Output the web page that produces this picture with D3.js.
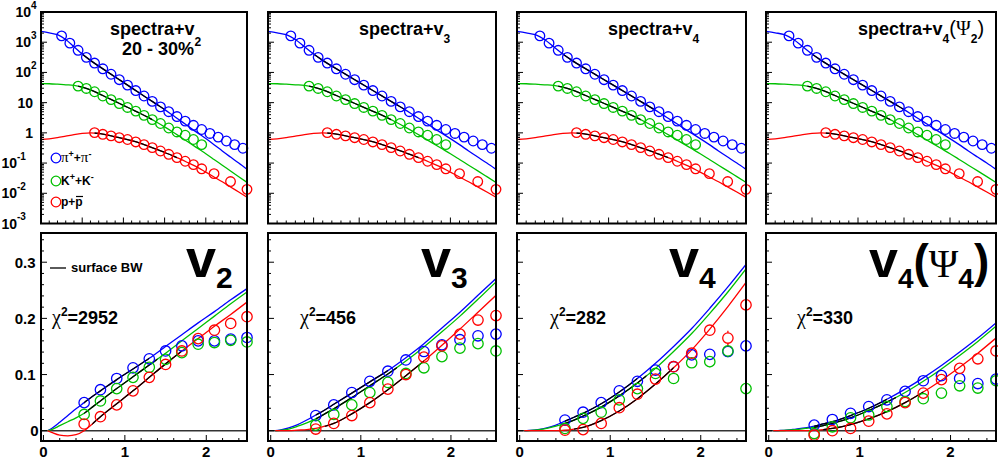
<!DOCTYPE html>
<html><head><meta charset="utf-8">
<script src="https://cdn.jsdelivr.net/npm/d3@7"></script>
<style>
html,body{margin:0;padding:0;background:#fff;}
svg{display:block;}
text{font-family:"Liberation Sans",Arial,Helvetica,sans-serif;font-weight:bold;fill:#000;}
</style></head><body>
<svg id="c" width="998" height="459"></svg>
<script>
// ---------------- DATA ----------------
// top row: identified hadron spectra (20-30%)
const specPionPt = [0.25,0.35,0.45,0.55,0.65,0.75,0.85,0.95,1.05,1.15,1.25,1.35,1.45,1.55,1.65,1.75,1.85,1.95,2.05,2.15,2.25,2.35,2.45];
const specPion   = [1620,930,540,316,204,132,87.1,57.5,38.0,25.1,16.6,11.0,7.24,5.01,3.47,2.45,1.78,1.29,0.955,0.724,0.537,0.407,0.309];
const specKaonPt = [0.45,0.55,0.65,0.75,0.85,0.95,1.05,1.15,1.25,1.35,1.45,1.55,1.65,1.75,1.85,1.95];
const specKaon   = [35.1,29.5,22.9,16.6,12.6,9.33,6.92,5.25,3.80,2.75,2.04,1.45,1.07,0.832,0.603,0.407];
const specProtonPt = [0.65,0.75,0.85,0.95,1.05,1.15,1.25,1.35,1.45,1.55,1.65,1.75,1.85,1.95,2.1,2.3,2.5];
const specProton   = [1.02,0.895,0.794,0.692,0.603,0.501,0.407,0.324,0.251,0.195,0.151,0.115,0.0891,0.0646,0.0447,0.0245,0.0135];
// surface blast-wave curves for spectra
const specFitPt = [0,0.1,0.2,0.3,0.4,0.5,0.6,0.7,0.8,0.9,1.0,1.1,1.2,1.3,1.4,1.5,1.6,1.7,1.8,1.9,2.0,2.1,2.2,2.3,2.4,2.5];
const specFitPion = [2291,2042,1778,1230,708,407,251,162,107,70.8,46.8,30.9,20.4,13.5,8.91,5.89,3.80,2.45,1.55,1.0,0.646,0.407,0.251,0.158,0.100,0.0617];
const specFitKaon = [42.7,42.2,40.7,38.9,37.2,32.4,26.3,20.0,14.8,11.0,8.13,6.03,4.47,3.24,2.29,1.58,1.07,0.708,0.468,0.309,0.204,0.132,0.0851,0.0550,0.0355,0.0229];
const specFitProton = [0.603,0.631,0.692,0.776,0.871,0.955,1.0,0.955,0.851,0.741,0.646,0.550,0.457,0.363,0.288,0.224,0.174,0.132,0.0977,0.0724,0.0501,0.0347,0.0240,0.0162,0.0110,0.00741];
const specFitRange = {pion:[0.5,1.5], kaon:[0.45,1.35], proton:[0.65,1.65]};
const specTicksLog = [1e4,1e3,1e2,10,1,0.1,0.01,0.001];
const specTickBase = ["10","10","10","10","1","10","10","10"];
const specTickExp  = ["4","3","2","","","-1","-2","-3"];

// bottom row: vn(pT)
const vnPt = [0.5,0.7,0.9,1.1,1.3,1.5,1.7,1.9,2.1,2.3,2.5];
const v2Pion   = [0.050,0.073,0.093,0.112,0.128,0.142,0.151,0.160,0.160,0.163,0.166];
const v2Kaon   = [0.029,0.053,0.075,0.095,0.113,0.127,0.139,0.154,0.157,0.161,0.158];
const v2Proton = [0.012,0.025,0.046,0.071,0.095,0.118,0.142,0.164,0.179,0.191,0.203];
const v3Pion   = [0.027,0.046,0.068,0.088,0.106,0.126,0.141,0.153,0.162,0.169,0.172];
const v3Kaon   = [0.010,0.029,0.046,0.068,0.086,0.102,0.112,0.132,0.147,0.155,0.142];
const v3Proton = [0.003,0.013,0.027,0.050,0.074,0.100,0.131,0.151,0.172,0.197,0.205];
const v4Pion   = [0.019,0.033,0.050,0.071,0.088,0.108,0.114,0.135,0.136,0.141,0.151];
const v4Kaon   = [0.004,0.022,0.033,0.055,0.075,0.102,0.093,0.121,0.123,0.142,0.075];
const v4Proton = [0.001,0.002,0.013,0.041,0.065,0.092,0.114,0.138,0.179,0.165,0.224];
const v4PionErr   = [0,0,0,0,0,0,0,0,0.006,0.009,0.014];
const v4KaonErr   = [0,0,0,0,0,0,0,0,0.010,0.011,0.021];
const v4ProtonErr = [0,0,0,0,0,0,0,0,0.008,0.013,0.017];
const v4Psi4Pion   = [0.010,0.020,0.031,0.043,0.055,0.070,0.089,0.098,0.093,0.084,0.092];
const v4Psi4Kaon   = [-0.005,0.007,0.023,0.028,0.043,0.052,0.057,0.067,0.080,0.076,0.089];
const v4Psi4Proton = [-0.008,0.000,0.004,0.017,0.030,0.050,0.067,0.091,0.111,0.128,0.142];
// surface blast-wave curves for vn
const vnFitPt = [0.05,0.1,0.2,0.3,0.4,0.5,0.6,0.7,0.9,1.1,1.3,1.5,1.7,1.9,2.1,2.3,2.5];
const v2FitPion   = [0,0.004,0.015,0.027,0.039,0.050,0.061,0.071,0.091,0.110,0.129,0.150,0.171,0.192,0.212,0.233,0.253];
const v2FitKaon   = [0,0.002,0.009,0.016,0.023,0.031,0.042,0.053,0.075,0.096,0.117,0.138,0.160,0.182,0.204,0.226,0.247];
const v2FitProton = [0,-0.003,-0.008,-0.009,-0.007,0.000,0.012,0.025,0.048,0.071,0.095,0.119,0.142,0.164,0.186,0.207,0.229];
const v3FitPion   = [0,0.001,0.005,0.011,0.019,0.028,0.037,0.047,0.067,0.087,0.107,0.130,0.155,0.183,0.211,0.241,0.271];
const v3FitKaon   = [0,0.0005,0.003,0.008,0.014,0.021,0.030,0.039,0.059,0.080,0.101,0.124,0.149,0.176,0.204,0.234,0.265];
const v3FitProton = [0,0,0,0.001,0.002,0.004,0.008,0.013,0.030,0.050,0.073,0.098,0.124,0.152,0.181,0.211,0.241];
const v4FitPion   = [0,0.0005,0.002,0.005,0.010,0.017,0.024,0.031,0.048,0.069,0.093,0.120,0.150,0.182,0.218,0.256,0.296];
const v4FitKaon   = [0,0.0003,0.0015,0.004,0.008,0.013,0.019,0.026,0.042,0.062,0.085,0.111,0.141,0.173,0.209,0.247,0.288];
const v4FitProton = [0,0,0,0,0,0.001,0.003,0.006,0.018,0.035,0.057,0.083,0.112,0.144,0.181,0.221,0.264];
const v4Psi4FitPion   = [0,0.0003,0.001,0.003,0.005,0.008,0.012,0.016,0.027,0.040,0.056,0.074,0.094,0.116,0.140,0.165,0.192];
const v4Psi4FitKaon   = [0,0.0002,0.0008,0.002,0.004,0.006,0.009,0.013,0.023,0.036,0.051,0.068,0.088,0.110,0.134,0.159,0.186];
const v4Psi4FitProton = [0,0,0,0,0,0.0005,0.002,0.004,0.011,0.021,0.034,0.050,0.069,0.090,0.113,0.138,0.165];
const vnFitRange = {pion:[0.5,1.3], kaon:[0.5,1.4], proton:[0.6,1.7]};
const chi2Values = ["2952","456","282","330"];
const vnTicks = [0,0.1,0.2,0.3];
const ptTicks = [0,1,2];

// ---------------- LAYOUT ----------------
const W = 998, H = 459;
const padL = [41, 268, 517, 766];
const padR = [247, 496, 746, 996];
const topY0 = 12, topY1 = 223.5;
const botY0 = 233, botY1 = 441;
const COL = {pion:"#0000ff", kaon:"#00c000", proton:"#ff0000"};
const SERIF = '"Liberation Serif","DejaVu Serif",serif';

const svg = d3.select("#c");
svg.append("rect").attr("width",W).attr("height",H).attr("fill","#fff");
const defs = svg.append("defs");

function rich(sel, x, y, parts, anchor){
  const t = sel.append("text").attr("x",x).attr("y",y).attr("text-anchor",anchor||"start");
  parts.forEach(p=>{
    const s = t.append("tspan").text(p.t).attr("font-size",p.s);
    if(p.dy) s.attr("dy",p.dy);
    if(p.g) s.attr("font-family",SERIF).attr("font-weight","normal");
    if(p.n) s.attr("font-weight","normal");
  });
  return t;
}
function zip(xs, ys){ return xs.map((x,i)=>[x,ys[i]]); }

const yTop = d3.scaleLog().domain([1e-3,1e4]).range([topY1, topY0]);
const yBot = d3.scaleLinear().domain([-0.0183,0.352]).range([botY1, botY0]);

const vnSets = [
  {pts:[v2Pion,v2Kaon,v2Proton], fit:[v2FitPion,v2FitKaon,v2FitProton]},
  {pts:[v3Pion,v3Kaon,v3Proton], fit:[v3FitPion,v3FitKaon,v3FitProton]},
  {pts:[v4Pion,v4Kaon,v4Proton], fit:[v4FitPion,v4FitKaon,v4FitProton], err:[v4PionErr,v4KaonErr,v4ProtonErr]},
  {pts:[v4Psi4Pion,v4Psi4Kaon,v4Psi4Proton], fit:[v4Psi4FitPion,v4Psi4FitKaon,v4Psi4FitProton]}
];
const species = ["pion","kaon","proton"];
const specPts = [[specPionPt,specPion],[specKaonPt,specKaon],[specProtonPt,specProton]];
const specFits = [specFitPion,specFitKaon,specFitProton];

for(let i=0;i<4;i++){
  // ---------- top panel ----------
  const xT = d3.scaleLinear().domain([0,2.5]).range([padL[i],padR[i]]);
  const gT = svg.append("g");
  const cidT = "clipT"+i;
  defs.append("clipPath").attr("id",cidT).append("rect")
    .attr("x",padL[i]).attr("y",topY0).attr("width",padR[i]-padL[i]).attr("height",topY1-topY0);
  const lineT = d3.line().x(d=>xT(d[0])).y(d=>yTop(d[1])).curve(d3.curveMonotoneX);
  species.forEach((sp,k)=>{
    gT.append("path").attr("d",lineT(zip(specFitPt,specFits[k])))
      .attr("fill","none").attr("stroke",COL[sp]).attr("stroke-width",1.3).attr("clip-path",`url(#${cidT})`);
  });
  species.forEach((sp,k)=>{
    const r = specFitRange[sp];
    const cid = `clipT${i}_${k}`;
    defs.append("clipPath").attr("id",cid).append("rect")
      .attr("x",xT(r[0])).attr("y",topY0).attr("width",xT(r[1])-xT(r[0])).attr("height",topY1-topY0);
    gT.append("path").attr("d",lineT(zip(specFitPt,specFits[k])))
      .attr("fill","none").attr("stroke","#000").attr("stroke-width",1.3).attr("clip-path",`url(#${cid})`);
  });
  species.forEach((sp,k)=>{
    gT.selectAll(null).data(zip(specPts[k][0],specPts[k][1])).enter().append("circle")
      .attr("cx",d=>xT(d[0])).attr("cy",d=>yTop(d[1])).attr("r",4.8)
      .attr("fill","none").attr("stroke",COL[sp]).attr("stroke-width",1.3);
  });
  // ticks
  const tk = svg.append("g").attr("stroke","#000").attr("stroke-width",1);
  d3.range(0,26).forEach(j=>{
    const v=j/10, major = (j%5===0);
    tk.append("line").attr("x1",xT(v)).attr("x2",xT(v)).attr("y1",topY1).attr("y2",topY1-(major?6:3));
  });
  for(let e=-3;e<4;e++){
    for(let m=1;m<10;m++){
      const v=m*Math.pow(10,e);
      tk.append("line").attr("x1",padL[i]).attr("x2",padL[i]+(m===1?6:3)).attr("y1",yTop(v)).attr("y2",yTop(v));
    }
  }
  svg.append("rect").attr("x",padL[i]).attr("y",topY0).attr("width",padR[i]-padL[i]).attr("height",topY1-topY0)
    .attr("fill","none").attr("stroke","#000").attr("stroke-width",2);

  // ---------- bottom panel ----------
  const xB = d3.scaleLinear().domain([-0.03,2.5]).range([padL[i],padR[i]]);
  const gB = svg.append("g");
  const cidB = "clipB"+i;
  defs.append("clipPath").attr("id",cidB).append("rect")
    .attr("x",padL[i]).attr("y",botY0).attr("width",padR[i]-padL[i]).attr("height",botY1-botY0);
  gB.append("line").attr("x1",padL[i]).attr("x2",padR[i]).attr("y1",yBot(0)).attr("y2",yBot(0))
    .attr("stroke","#333").attr("stroke-width",1.6);
  const lineB = d3.line().x(d=>xB(d[0])).y(d=>yBot(d[1])).curve(d3.curveMonotoneX);
  const set = vnSets[i];
  species.forEach((sp,k)=>{
    gB.append("path").attr("d",lineB(zip(vnFitPt,set.fit[k])))
      .attr("fill","none").attr("stroke",COL[sp]).attr("stroke-width",1.3).attr("clip-path",`url(#${cidB})`);
  });
  species.forEach((sp,k)=>{
    const r = vnFitRange[sp];
    const cid = `clipB${i}_${k}`;
    defs.append("clipPath").attr("id",cid).append("rect")
      .attr("x",xB(r[0])).attr("y",botY0).attr("width",xB(r[1])-xB(r[0])).attr("height",botY1-botY0);
    gB.append("path").attr("d",lineB(zip(vnFitPt,set.fit[k])))
      .attr("fill","none").attr("stroke","#000").attr("stroke-width",1.3).attr("clip-path",`url(#${cid})`);
  });
  const R = 5.2;
  species.forEach((sp,k)=>{
    const data = vnPt.map((p,j)=>({x:p, v:set.pts[k][j], e:set.err?set.err[k][j]:0}));
    data.forEach(d=>{
      const cx=xB(d.x), cy=yBot(d.v);
      if(d.e>0){
        const yt=yBot(d.v+d.e), yb=yBot(d.v-d.e);
        if(cy-R>yt) gB.append("line").attr("x1",cx).attr("x2",cx).attr("y1",yt).attr("y2",cy-R).attr("stroke",COL[sp]).attr("stroke-width",1.3);
        if(yb>cy+R) gB.append("line").attr("x1",cx).attr("x2",cx).attr("y1",cy+R).attr("y2",yb).attr("stroke",COL[sp]).attr("stroke-width",1.3);
      }
    });
    gB.selectAll(null).data(data).enter().append("circle")
      .attr("cx",d=>xB(d.x)).attr("cy",d=>yBot(d.v)).attr("r",R)
      .attr("fill","none").attr("stroke",COL[sp]).attr("stroke-width",1.3);
  });
  const tkb = svg.append("g").attr("stroke","#000").attr("stroke-width",1);
  d3.range(0,13).forEach(j=>{
    const v=j*0.2, major=(j%5===0);
    tkb.append("line").attr("x1",xB(v)).attr("x2",xB(v)).attr("y1",botY1).attr("y2",botY1-(major?6:3));
  });
  d3.range(0,18).forEach(j=>{
    const v=j*0.02, major=(j%5===0);
    tkb.append("line").attr("x1",padL[i]).attr("x2",padL[i]+(major?6:3)).attr("y1",yBot(v)).attr("y2",yBot(v));
  });
  svg.append("rect").attr("x",padL[i]).attr("y",botY0).attr("width",padR[i]-padL[i]).attr("height",botY1-botY0)
    .attr("fill","none").attr("stroke","#000").attr("stroke-width",2);
  // x tick labels
  ptTicks.forEach(t=>{
    svg.append("text").attr("x",xB(t)).attr("y",456.5).attr("text-anchor","middle").attr("font-size",15).text(t);
  });
  // chi2
  const chiX = [52,300,550,797][i];
  rich(svg, chiX, 324, [{t:"χ",s:20,g:1},{t:"2",s:12,dy:-8},{t:"="+chi2Values[i],s:18,dy:8}]);
}

// y tick labels, panel 1 (negative-exponent labels sit further left, as in the original)
specTicksLog.forEach((v,j)=>{
  const y = yTop(v);
  const ex = specTickExp[j];
  const xe = ex === "" ? 33 : (ex.length > 1 ? 17 : 31);
  svg.append("text").attr("x", xe).attr("y",y).attr("dy","0.36em")
    .attr("text-anchor","end").attr("font-size",14).text(specTickBase[j]);
  if(ex !== "") svg.append("text").attr("x",xe).attr("y",y-3.5).attr("font-size",10).text(ex);
});
vnTicks.forEach(v=>{
  svg.append("text").attr("x", v===0?38.5:35.5).attr("y",yBot(v)).attr("dy","0.36em")
    .attr("text-anchor","end").attr("font-size",15).text(v===0?"0":v.toFixed(1));
});

// titles
rich(svg,110,35,[{t:"spectra+v",s:18},{t:"2",s:12,dy:11}]);
svg.append("text").attr("x",122).attr("y",55).attr("font-size",18).text("20 - 30%");
rich(svg,359,35,[{t:"spectra+v",s:18},{t:"3",s:12,dy:8}]);
rich(svg,608,35,[{t:"spectra+v",s:18},{t:"4",s:12,dy:8}]);
rich(svg,858,35,[{t:"spectra+v",s:18},{t:"4",s:12,dy:8},{t:"(",s:20,dy:-8,n:1},{t:"Ψ",s:20,g:1},{t:"2",s:12,dy:8},{t:")",s:20,dy:-8,n:1}]);

// legend (top panel 1)
const legY = [158,181,202];
species.forEach((sp,k)=>{
  svg.append("circle").attr("cx",56).attr("cy",legY[k]).attr("r",4.8).attr("fill","none").attr("stroke",COL[sp]).attr("stroke-width",1.3);
});
rich(svg,61,162,[{t:"π",s:15,g:1},{t:"+",s:9,dy:-5},{t:"+",s:12,dy:5},{t:"π",s:15,g:1},{t:"-",s:9,dy:-5}]);
rich(svg,61,185,[{t:"K",s:12},{t:"+",s:9,dy:-5},{t:"+K",s:12,dy:5},{t:"-",s:9,dy:-5}]);
rich(svg,61,206,[{t:"p+",s:12},{t:"p",s:12}]);
svg.append("line").attr("x1",76).attr("x2",83).attr("y1",196.5).attr("y2",196.5).attr("stroke","#000").attr("stroke-width",1.2);

// surface BW legend
svg.append("line").attr("x1",50).attr("x2",66).attr("y1",268).attr("y2",268).attr("stroke","#000").attr("stroke-width",1.3);
svg.append("text").attr("x",71).attr("y",272).attr("font-size",13).text("surface BW");

// big labels
rich(svg,186,277,[{t:"v",s:54},{t:"2",s:30,dy:11}]);
rich(svg,421,277,[{t:"v",s:54},{t:"3",s:30,dy:11}]);
rich(svg,669,277,[{t:"v",s:54},{t:"4",s:30,dy:11}]);
rich(svg,869,277,[{t:"v",s:52},{t:"4",s:28,dy:11},{t:"(",s:46,dy:-11},{t:"Ψ",s:40,g:1},{t:"4",s:28,dy:11},{t:")",s:46,dy:-11}]);
</script>
</body></html>
